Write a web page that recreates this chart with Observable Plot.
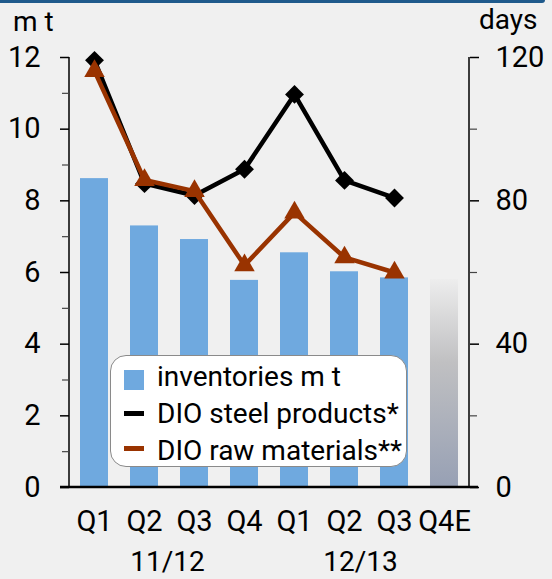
<!DOCTYPE html>
<html>
<head>
<meta charset="utf-8">
<script src="https://cdn.jsdelivr.net/npm/d3@7"></script>
<script src="https://cdn.jsdelivr.net/npm/@observablehq/plot@0.6"></script>
<style>
  html, body { margin: 0; padding: 0; background: #f0f0f0; }
  #wrap { position: relative; width: 552px; height: 579px; background: #f0f0f0; overflow: hidden; }
  #topbar { position: absolute; left: 0; top: 0; width: 545px; height: 3px; background: #1f5a8c; border-bottom-right-radius: 6px; }
  .title { position: absolute; font-family: Roboto, sans-serif; font-size: 28px; line-height: 28px; color: #000; white-space: nowrap; }
  #legend { position: absolute; left: 110px; top: 355px; width: 295px; height: 110px; background: #fff; border: 1.5px solid #8a8a8a; border-radius: 16px; }
  .lrow { position: absolute; left: 46px; font-family: Roboto, sans-serif; font-size: 28px; line-height: 28px; color: #000; white-space: nowrap; }
  .sw { position: absolute; left: 13px; width: 20px; }
</style>
</head>
<body>
<div id="wrap">
  <div id="topbar"></div>
  <div id="chart"></div>
  <div class="title" style="left:13px; top:8px;">m t</div>
  <div class="title" style="left:479px; top:6px;">days</div>
  <div id="legend"></div>
</div>
<script>
// ---- data ----
const quarters = ["Q1", "Q2", "Q3", "Q4", "Q1", "Q2", "Q3", "Q4E"];
const years = ["11/12", "11/12", "11/12", "11/12", "12/13", "12/13", "12/13", "12/13"];
const inventories = [8.62, 7.30, 6.92, 5.78, 6.55, 6.02, 5.85, 5.80];
const estimated = [false, false, false, false, false, false, false, true];
const dioSteel = [119.2, 84.8, 81.5, 88.8, 109.7, 85.7, 80.8, null];
const dioRaw = [116.2, 85.8, 82.7, 62.0, 76.7, 64.2, 60.0, null];
const leftTicks = [0, 2, 4, 6, 8, 10, 12];
const leftMinorTicks = [1, 3, 5, 7, 9, 11];
const rightTicks = [0, 40, 80, 120];
const rightMinorTicks = [20, 60, 100];
const yearLabels = ["11/12", "12/13"];
const legendItems = ["inventories m t", "DIO steel products*", "DIO raw materials**"];

// days -> m t axis conversion (120 days = 12 m t)
const daysPerUnit = 10;

const rows = quarters.map((q, i) => ({
  key: years[i] + " " + q,
  quarter: q,
  year: years[i],
  inv: inventories[i],
  est: estimated[i],
  steel: dioSteel[i],
  raw: dioRaw[i]
}));
const keys = rows.map(d => d.key);

const barColor = "#6fa9df";
const rawColor = "#993300";

const defsMark = () => {
  const svg = d3.create("svg:defs");
  const g = svg.append("linearGradient").attr("id", "estGrad")
    .attr("x1", 0).attr("y1", 0).attr("x2", 0).attr("y2", 1);
  g.append("stop").attr("offset", "0%").attr("stop-color", "#ededed");
  g.append("stop").attr("offset", "40%").attr("stop-color", "#c0c0c2");
  g.append("stop").attr("offset", "100%").attr("stop-color", "#97a0b4");
  return svg.node();
};

const axisLines = (index, scales, values, dims) => {
  const g = d3.create("svg:g");
  const xl = dims.marginLeft, xr = dims.width - dims.marginRight;
  const yt = scales.y(12), yb = scales.y(0);
  g.append("line").attr("x1", xl).attr("x2", xl).attr("y1", yt).attr("y2", yb)
    .attr("stroke", "#000").attr("stroke-width", 1.5);
  g.append("line").attr("x1", xr).attr("x2", xr).attr("y1", yt).attr("y2", yb)
    .attr("stroke", "#000").attr("stroke-width", 1.5);
  g.append("line").attr("x1", xl - 9).attr("x2", xr + 9).attr("y1", yb).attr("y2", yb)
    .attr("stroke", "#000").attr("stroke-width", 2.5);
  return g.node();
};

const chart = Plot.plot({
  width: 552,
  height: 579,
  marginLeft: 69,
  marginRight: 83,
  marginTop: 57,
  marginBottom: 92,
  style: { background: "transparent", fontFamily: "Roboto, sans-serif", fontSize: "29px", color: "#000", overflow: "visible" },
  x: { type: "band", domain: keys, paddingInner: 0.44, paddingOuter: 0.22, label: null },
  y: { domain: [0, 12], label: null },
  marks: [
    defsMark,
    Plot.barY(rows.filter(d => !d.est), { x: "key", y: "inv", fill: barColor }),
    Plot.barY(rows.filter(d => d.est), { x: "key", y: "inv", fill: "url(#estGrad)" }),
    Plot.line(rows.filter(d => d.steel != null), { x: "key", y: d => d.steel / daysPerUnit, stroke: "#000", strokeWidth: 4.5 }),
    Plot.dot(rows.filter(d => d.steel != null), { x: "key", y: d => d.steel / daysPerUnit, symbol: "diamond2", r: 8.5, fill: "#000", stroke: "none" }),
    Plot.line(rows.filter(d => d.raw != null), { x: "key", y: d => d.raw / daysPerUnit, stroke: rawColor, strokeWidth: 4.5 }),
    Plot.dot(rows.filter(d => d.raw != null), { x: "key", y: d => d.raw / daysPerUnit, symbol: "triangle", r: 7.6, fill: rawColor, stroke: "none" }),
    axisLines,
    Plot.axisY({ anchor: "left", ticks: leftTicks, tickSize: 9, tickPadding: 20, stroke: "#000", strokeWidth: 1.5, label: null }),
    Plot.axisY({ anchor: "left", ticks: leftMinorTicks, tickSize: 7, tickFormat: () => "", stroke: "#444", strokeWidth: 1.2, label: null }),
    Plot.axisY({ anchor: "right", ticks: rightTicks.map(d => d / daysPerUnit), tickFormat: d => Math.round(d * daysPerUnit), tickSize: 9, tickPadding: 17, stroke: "#000", strokeWidth: 1.5, label: null }),
    Plot.axisY({ anchor: "right", ticks: rightMinorTicks.map(d => d / daysPerUnit), tickSize: 7, tickFormat: () => "", stroke: "#444", strokeWidth: 1.2, label: null }),
    Plot.axisX({ anchor: "bottom", tickSize: 0, tickPadding: 23, tickFormat: k => rows.find(d => d.key === k).quarter, label: null }),
    Plot.text([yearLabels[0]], { x: y => y + " Q2", y: () => 0, text: d => d, dx: 23, dy: 75, fill: "#000", fontSize: 28 }),
    Plot.text([yearLabels[1]], { x: y => y + " Q2", y: () => 0, text: d => d, dx: 16, dy: 75, fill: "#000", fontSize: 28 })
  ]
});
document.getElementById("chart").appendChild(chart);

// legend
const legend = document.getElementById("legend");
const rowTops = [7, 44, 81];
legendItems.forEach((t, i) => {
  const div = document.createElement("div");
  div.className = "lrow";
  div.style.top = rowTops[i] + "px";
  div.textContent = t;
  legend.appendChild(div);
  const sw = document.createElement("div");
  sw.className = "sw";
  if (i === 0) { sw.style.top = "14px"; sw.style.height = "20px"; sw.style.background = barColor; }
  else if (i === 1) { sw.style.top = "55px"; sw.style.height = "5px"; sw.style.background = "#000"; }
  else { sw.style.top = "90px"; sw.style.height = "5px"; sw.style.background = rawColor; }
  legend.appendChild(sw);
});
</script>
</body>
</html>
